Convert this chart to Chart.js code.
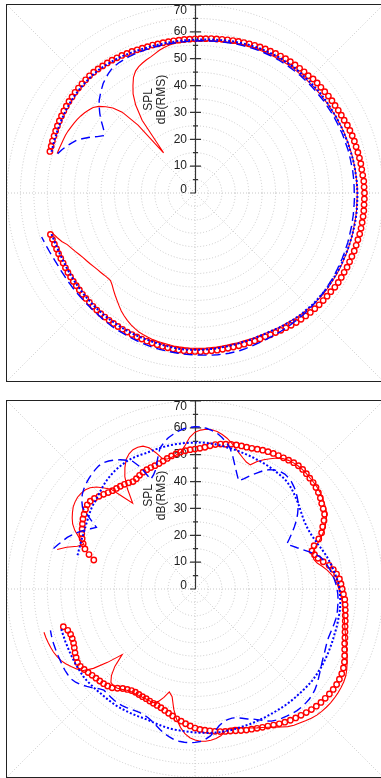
<!DOCTYPE html>
<html>
<head>
<meta charset="utf-8">
<script src="https://cdn.jsdelivr.net/npm/chart.js@4.4.1/dist/chart.umd.min.js"></script>
<style>
  html, body { margin: 0; padding: 0; background: #fff; overflow: hidden; width: 381px; height: 778px; }
  .frame { position: absolute; left: 6px; width: 376px; height: 376px; border: 1px solid #222; }
  #top { top: 4px; }
  #bottom { top: 400px; }
  canvas { display: block; }
</style>
</head>
<body>
<div class="frame" id="top"><canvas id="topChart" width="376" height="376"></canvas></div>
<div class="frame" id="bottom"><canvas id="bottomChart" width="376" height="376"></canvas></div>
<script>
// angle of each sample in degrees, 0 = right, counter-clockwise positive, 2 degree steps
// samples run clockwise from 164 down to -164; the rest of the circle is empty
const ANGLES = Array.from({ length: 180 }, (_, k) => 164 - 2 * k)

const TICK_VALUES = [0, 10, 20, 30, 40, 50, 60, 70]
const TICK_LABELS = ['0', '10', '20', '30', '40', '50', '60', '70']
const MINOR_TICKS = [5, 15, 25, 35, 45, 55, 65]
const RAY_ANGLES = [0, 45, 90, 135, 180, 225, 270, 315]

// upper plot, dB
const topRings = [
  56.2, 56.3, 56.5, 56.6, 56.8, 57.0, 57.2, 57.4, 57.6, 57.8,
  58.0, 58.1, 58.3, 58.4, 58.5, 58.6, 58.7, 58.7, 58.6, 58.5,
  58.4, 58.3, 58.1, 58.0, 57.8, 57.7, 57.5, 57.4, 57.3, 57.3,
  57.2, 57.2, 57.2, 57.2, 57.2, 57.3, 57.3, 57.4, 57.5, 57.6,
  57.8, 57.9, 58.1, 58.3, 58.5, 58.7, 58.9, 59.1, 59.3, 59.5,
  59.7, 59.8, 60.0, 60.1, 60.3, 60.4, 60.5, 60.6, 60.7, 60.7,
  61.1, 61.2, 61.2, 61.3, 61.4, 61.5, 61.5, 61.6, 61.7, 61.8,
  62.1, 62.2, 62.3, 62.4, 62.4, 62.5, 62.6, 62.7, 62.7, 62.8,
  63.0, 63.0, 63.1, 63.1, 63.1, 63.2, 63.2, 63.2, 63.2, 63.2,
  63.1, 63.1, 63.1, 63.0, 63.0, 63.0, 62.9, 62.9, 62.9, 62.8,
  62.5, 62.4, 62.3, 62.2, 62.0, 61.8, 61.6, 61.4, 61.2, 60.9,
  60.5, 60.3, 60.0, 59.8, 59.6, 59.5, 59.4, 59.3, 59.2, 59.2,
  59.1, 59.1, 59.1, 59.1, 59.1, 59.1, 59.1, 59.0, 59.0, 58.9,
  58.8, 58.7, 58.5, 58.4, 58.2, 58.1, 58.0, 57.9, 57.8, 57.7,
  57.6, 57.5, 57.4, 57.3, 57.2, 57.1, 57.0, 56.9, 56.8, 56.6,
  56.5, 56.4, 56.2, 56.1, 56.0, 55.9, 55.8, 55.7, 55.6, 55.6,
  55.6, 55.6, 55.7, 55.8, 56.0
]
const topSolid = [
  53.4, 53.2, 53.0, 52.9, 52.8, 52.6, 52.3, 52.0, 51.7, 51.3,
  50.8, 50.2, 49.5, 48.2, 46.2, 44.0, 40.5, 33.0, 19.0, 33.5,
  39.5, 43.5, 46.2, 48.8, 50.5, 51.5, 52.2, 52.8, 53.3, 54.0,
  54.8, 55.4, 55.9, 56.2, 56.4, 56.5, 56.6, 56.6, 56.7, 56.8,
  57.0, 57.1, 57.3, 57.4, 57.6, 57.8, 58.0, 58.1, 58.3, 58.4,
  58.5, 58.6, 58.7, 58.8, 58.9, 59.0, 59.0, 59.1, 59.1, 59.2,
  59.2, 59.3, 59.3, 59.4, 59.4, 59.5, 59.5, 59.6, 59.7, 59.7,
  59.8, 59.9, 59.9, 60.0, 60.0, 60.1, 60.2, 60.2, 60.3, 60.3,
  60.3, 60.4, 60.4, 60.4, 60.4, 60.5, 60.5, 60.5, 60.5, 60.6,
  60.6, 60.6, 60.7, 60.7, 60.7, 60.8, 60.8, 60.8, 60.8, 60.8,
  60.8, 60.8, 60.7, 60.6, 60.5, 60.3, 60.1, 59.9, 59.7, 59.4,
  59.2, 59.0, 58.8, 58.6, 58.4, 58.3, 58.2, 58.1, 58.0, 58.0,
  57.9, 57.9, 57.9, 57.9, 57.9, 57.9, 57.9, 57.8, 57.8, 57.7,
  57.6, 57.5, 57.3, 57.1, 57.0, 56.8, 56.5, 56.2, 55.8, 55.2,
  54.5, 53.7, 52.8, 51.8, 50.6, 49.4, 48.3, 47.2, 46.1, 45.3,
  45.4, 45.6, 45.9, 46.2, 46.6, 47.1, 47.6, 48.1, 48.8, 49.6,
  50.4, 51.3, 52.8, 53.9, 55.0
]
const topDashed = [
  53.2, 52.1, 50.9, 49.6, 48.3, 46.3, 44.2, 42.0, 40.3, 40.8,
  42.5, 44.5, 46.3, 48.0, 49.6, 50.8, 52.0, 53.2, 54.1, 54.9,
  55.6, 56.0, 56.2, 56.3, 56.4, 56.4, 56.4, 56.4, 56.4, 56.4,
  56.4, 56.4, 56.4, 56.4, 56.4, 56.5, 56.5, 56.6, 56.7, 56.8,
  56.9, 57.0, 57.1, 57.3, 57.4, 57.6, 57.7, 57.8, 58.0, 58.1,
  58.2, 58.3, 58.4, 58.5, 58.5, 58.6, 58.6, 58.7, 58.7, 58.7,
  58.8, 58.8, 58.8, 58.8, 58.9, 58.9, 58.9, 59.0, 59.0, 59.0,
  59.0, 59.1, 59.1, 59.1, 59.2, 59.2, 59.2, 59.2, 59.3, 59.3,
  59.3, 59.3, 59.3, 59.4, 59.4, 59.4, 59.5, 59.5, 59.6, 59.6,
  59.7, 59.8, 59.8, 59.9, 60.0, 60.0, 60.1, 60.2, 60.3, 60.3,
  60.4, 60.5, 60.5, 60.6, 60.6, 60.6, 60.6, 60.6, 60.6, 60.6,
  60.6, 60.6, 60.6, 60.6, 60.6, 60.6, 60.7, 60.8, 60.9, 61.0,
  61.0, 61.0, 60.9, 60.8, 60.7, 60.5, 60.4, 60.3, 60.2, 60.1,
  60.0, 59.9, 59.8, 59.7, 59.6, 59.5, 59.4, 59.2, 59.1, 58.9,
  58.8, 58.7, 58.6, 58.5, 58.3, 58.2, 58.0, 57.9, 57.8, 57.7,
  57.6, 57.6, 57.6, 57.6, 57.6, 57.6, 57.6, 57.7, 57.7, 57.9,
  58.1, 58.4, 58.7, 59.0, 59.4
]
const topDotted = [
  55.6, 55.7, 55.9, 56.0, 56.2, 56.4, 56.6, 56.8, 57.0, 57.2,
  57.4, 57.5, 57.7, 57.8, 57.9, 58.0, 58.1, 58.2, 58.2, 58.1,
  58.0, 57.9, 57.8, 57.7, 57.5, 57.4, 57.2, 57.1, 57.0, 57.0,
  56.9, 56.9, 56.9, 56.9, 56.9, 57.0, 57.0, 57.1, 57.2, 57.3,
  57.5, 57.6, 57.8, 58.0, 58.2, 58.3, 58.5, 58.7, 58.8, 59.0,
  59.1, 59.2, 59.3, 59.4, 59.4, 59.5, 59.5, 59.5, 59.5, 59.5,
  59.5, 59.5, 59.6, 59.6, 59.6, 59.6, 59.6, 59.6, 59.7, 59.7,
  59.8, 59.8, 59.8, 59.9, 59.9, 60.0, 60.1, 60.2, 60.2, 60.3,
  60.4, 60.4, 60.5, 60.5, 60.5, 60.6, 60.6, 60.6, 60.6, 60.6,
  60.6, 60.6, 60.6, 60.6, 60.6, 60.6, 60.6, 60.6, 60.6, 60.6,
  60.6, 60.5, 60.4, 60.4, 60.3, 60.1, 60.0, 59.9, 59.7, 59.5,
  59.3, 59.1, 58.8, 58.6, 58.5, 58.4, 58.4, 58.4, 58.3, 58.3,
  58.3, 58.3, 58.3, 58.4, 58.4, 58.4, 58.4, 58.4, 58.4, 58.4,
  58.3, 58.2, 58.0, 57.9, 57.7, 57.6, 57.5, 57.5, 57.4, 57.3,
  57.2, 57.1, 57.0, 56.9, 56.8, 56.7, 56.6, 56.5, 56.4, 56.2,
  56.1, 56.0, 55.8, 55.7, 55.6, 55.5, 55.4, 55.3, 55.2, 55.2,
  55.2, 55.2, 55.3, 55.4, 55.6
]

// lower plot, dB
const bottomRings = [
  39.2, 41.5, 43.6, 44.9, 46.0, 46.9, 47.6, 48.4, 49.2, 49.8,
  50.4, 50.9, 50.9, 50.4, 49.7, 49.0, 48.3, 47.8, 47.5, 47.3,
  47.0, 46.6, 46.2, 46.5, 47.1, 47.6, 47.9, 48.1, 48.3, 48.6,
  49.1, 49.7, 50.3, 50.8, 51.3, 51.6, 51.9, 52.1, 52.4, 52.9,
  53.6, 54.3, 54.8, 55.1, 55.5, 55.8, 56.0, 56.2, 56.5, 57.0,
  57.5, 57.9, 58.3, 58.6, 58.9, 59.3, 59.7, 59.9, 59.9, 59.7,
  59.4, 59.2, 58.8, 58.3, 57.7, 56.9, 56.3, 55.7, 54.4, 52.9,
  51.6, 49.7, 47.2, 45.8, 46.3, 47.2, 48.8, 50.7, 52.0, 53.0,
  53.9, 54.4, 54.8, 55.3, 55.9, 56.2, 56.5, 56.8, 57.2, 57.6,
  58.1, 58.7, 59.3, 60.1, 61.0, 61.9, 62.6, 63.1, 63.4, 63.6,
  63.6, 63.5, 63.3, 63.1, 62.8, 62.4, 61.9, 61.4, 60.9, 60.4,
  59.8, 59.2, 58.5, 57.8, 57.3, 56.8, 56.3, 55.9, 55.4, 54.9,
  54.5, 54.2, 53.9, 53.5, 53.1, 52.7, 52.3, 51.8, 51.0, 50.3,
  49.5, 48.8, 48.0, 47.3, 46.6, 46.0, 45.6, 45.3, 45.0, 44.7,
  44.6, 44.5, 44.4, 44.6, 45.1, 45.8, 46.9, 48.0, 48.6, 49.0,
  49.3, 49.6, 50.0, 50.5, 51.0, 51.5, 51.6, 51.1, 50.6, 50.0,
  49.5, 49.3, 49.3, 49.8, 51.0
]
const bottomSolid = [
  53.4, 50.3, 46.6, 44.6, 47.3, 49.8, 51.6, 52.8, 53.8, 54.7,
  55.2, 55.5, 55.4, 55.1, 54.3, 52.8, 50.6, 48.5, 43.5, 39.5,
  45.0, 49.3, 52.2, 54.6, 56.0, 56.8, 56.9, 56.6, 55.3, 52.8,
  50.0, 49.5, 49.8, 50.4, 51.2, 53.5, 56.5, 58.4, 59.2, 59.6,
  59.6, 59.2, 58.4, 57.4, 56.1, 54.6, 53.2, 52.0, 51.0, 50.6,
  52.8, 54.5, 56.0, 57.5, 58.6, 59.2, 59.6, 59.8, 59.8, 59.7,
  59.5, 59.4, 59.2, 58.9, 58.5, 57.9, 57.3, 56.6, 55.4, 54.0,
  52.4, 50.5, 48.2, 46.5, 45.6, 45.6, 46.5, 48.2, 49.8, 51.1,
  52.2, 53.0, 53.6, 54.2, 54.8, 55.3, 55.8, 56.3, 56.9, 57.5,
  58.2, 59.0, 59.9, 60.9, 62.0, 63.0, 64.0, 64.8, 65.3, 65.6,
  65.8, 65.9, 65.9, 65.8, 65.6, 65.3, 64.7, 64.0, 63.3, 62.7,
  61.8, 60.6, 59.4, 58.3, 57.4, 56.6, 55.8, 55.0, 54.2, 53.6,
  53.6, 54.2, 55.5, 56.2, 56.6, 56.8, 56.7, 56.2, 55.4, 54.0,
  51.8, 49.0, 45.5, 41.0, 39.5, 42.0, 44.0, 45.0, 45.0, 44.8,
  44.8, 44.9, 44.9, 45.0, 45.5, 46.2, 46.9, 47.2, 46.8, 44.8,
  41.5, 36.5, 42.5, 48.0, 51.8, 53.2, 54.4, 55.6, 56.6, 57.2,
  57.7, 58.0, 58.2, 58.4, 58.5
]
const bottomDashed = [
  54.8, 53.6, 52.4, 51.3, 49.8, 48.3, 46.7, 44.9, 43.3, 47.5,
  51.8, 53.5, 54.8, 55.7, 56.4, 57.0, 57.5, 57.9, 58.2, 58.1,
  57.5, 56.6, 55.6, 54.3, 52.9, 49.5, 44.0, 45.2, 47.0, 50.5,
  54.0, 55.8, 57.2, 58.2, 59.1, 59.8, 60.2, 60.4, 60.4, 60.0,
  59.4, 58.6, 57.4, 55.9, 54.0, 51.2, 48.2, 45.6, 43.4, 45.0,
  47.0, 48.9, 50.9, 52.4, 53.4, 54.0, 54.3, 54.1, 53.7, 53.0,
  52.2, 51.2, 50.1, 48.7, 47.2, 45.5, 43.6, 41.7, 39.8, 38.0,
  39.5, 41.0, 42.8, 44.8, 46.8, 48.4, 49.3, 50.1, 50.8, 51.5,
  52.0, 52.5, 52.9, 53.2, 53.4, 53.5, 53.6, 53.7, 53.6, 53.4,
  53.2, 53.0, 52.9, 53.0, 53.3, 53.7, 54.1, 54.6, 55.3, 56.0,
  56.8, 57.6, 58.3, 58.8, 59.1, 59.2, 59.2, 59.1, 58.8, 58.4,
  58.0, 57.5, 56.8, 55.6, 54.2, 53.0, 52.2, 51.2, 50.4, 50.0,
  50.1, 50.6, 51.7, 53.4, 55.0, 56.1, 56.8, 57.1, 57.3, 57.2,
  57.0, 56.6, 55.8, 55.0, 53.9, 52.8, 51.8, 51.0, 50.6, 50.4,
  50.5, 50.7, 51.0, 51.2, 51.3, 51.2, 51.0, 50.8, 50.7, 51.6,
  53.0, 54.2, 55.4, 56.4, 57.0, 57.1, 57.1, 57.0, 56.8, 56.7,
  56.6, 56.5, 56.4, 56.2, 56.0
]
const bottomDotted = [
  45.5, 45.6, 45.7, 45.9, 46.1, 46.3, 46.6, 47.0, 47.4, 47.9,
  48.4, 48.9, 49.3, 49.6, 50.1, 50.7, 51.3, 51.9, 52.4, 52.8,
  53.2, 53.5, 53.7, 53.9, 54.0, 54.0, 53.9, 53.8, 53.9, 54.0,
  54.1, 54.2, 54.3, 54.4, 54.4, 54.5, 54.5, 54.5, 54.6, 54.6,
  54.5, 54.4, 54.3, 54.1, 54.0, 53.9, 53.8, 53.7, 53.6, 53.5,
  53.4, 53.4, 53.3, 53.2, 53.1, 53.0, 52.9, 52.7, 52.3, 51.8,
  51.2, 50.6, 50.0, 49.4, 48.8, 48.3, 47.9, 47.7, 47.6, 47.7,
  47.9, 48.3, 48.7, 49.3, 49.9, 50.5, 51.0, 51.5, 52.0, 52.5,
  53.0, 53.5, 53.8, 54.0, 54.2, 54.4, 54.5, 54.5, 54.5, 54.6,
  54.6, 54.6, 54.7, 54.8, 54.9, 55.0, 55.1, 55.2, 55.3, 55.3,
  55.4, 55.4, 55.3, 55.2, 55.1, 55.0, 55.0, 54.9, 54.8, 54.7,
  54.6, 54.5, 54.4, 54.4, 54.3, 54.3, 54.3, 54.2, 54.2, 54.2,
  54.2, 54.1, 54.1, 54.0, 53.9, 53.7, 53.6, 53.4, 53.3, 53.1,
  53.0, 52.9, 52.8, 52.6, 52.4, 52.2, 52.0, 51.8, 51.8, 51.9,
  52.0, 52.1, 52.2, 52.3, 52.4, 52.4, 52.4, 52.4, 52.4, 52.5,
  52.6, 52.7, 52.8, 52.8, 52.7, 52.6, 52.5, 52.4, 52.3, 52.2,
  52.1, 52.1, 52.0, 52.0, 52.0
]

const RED = '#ff0000'
const BLUE = '#0000ff'
const GRID_COLOR = '#c8c8c8'
const AXIS_COLOR = '#333333'
const FONT = '12px "Liberation Sans", Arial, sans-serif'

// rays, radial axis with ticks, tick labels and axis title
const polarAxis = {
  id: 'polarAxis',
  beforeDatasetsDraw(chart) {
    const r = chart.scales.r
    const ctx = chart.ctx
    const area = chart.chartArea
    const xc = r.xCenter
    const yc = r.yCenter
    const half = Math.max(area.width, area.height) / 2 + 2

    ctx.save()
    ctx.strokeStyle = GRID_COLOR
    ctx.lineWidth = 1
    ctx.setLineDash([1, 2])
    RAY_ANGLES.forEach(deg => {
      const a = deg * Math.PI / 180
      const c = Math.cos(a)
      const s = Math.sin(a)
      const len = half / Math.max(Math.abs(c), Math.abs(s))
      ctx.beginPath()
      ctx.moveTo(xc, yc)
      ctx.lineTo(xc + c * len, yc - s * len)
      ctx.stroke()
    })
    ctx.setLineDash([])

    const x = xc + 0.5
    ctx.strokeStyle = AXIS_COLOR
    ctx.lineWidth = 1.2
    ctx.beginPath()
    ctx.moveTo(x, yc)
    ctx.lineTo(x, yc - r.getDistanceFromCenterForValue(r.max))
    TICK_VALUES.forEach(v => {
      const y = yc - r.getDistanceFromCenterForValue(v)
      ctx.moveTo(x - 5.5, y)
      ctx.lineTo(v === 0 ? x : x + 5.5, y)
    })
    MINOR_TICKS.forEach(v => {
      const y = yc - r.getDistanceFromCenterForValue(v)
      ctx.moveTo(x - 2.5, y)
      ctx.lineTo(x + 2.5, y)
    })
    ctx.stroke()

    ctx.fillStyle = '#222'
    ctx.font = FONT
    ctx.textAlign = 'right'
    ctx.textBaseline = 'middle'
    TICK_VALUES.forEach((v, i) => {
      const y = yc - r.getDistanceFromCenterForValue(v) - (v === 0 ? 3 : 0)
      ctx.fillText(TICK_LABELS[i], xc - 8, Math.max(y, 6))
    })

    ctx.translate(xc - 40, yc - 93.5)
    ctx.rotate(-Math.PI / 2)
    ctx.textAlign = 'center'
    ctx.fillText('SPL', 0, -6.3)
    ctx.fillText('dB(RMS)', 0, 6.3)
    ctx.restore()
  }
}

function polarChart(canvasId, dotted, dashed, solid, rings) {
  return new Chart(document.getElementById(canvasId), {
    type: 'radar',
    data: {
      labels: ANGLES,
      datasets: [
        { data: dotted, borderColor: BLUE, borderWidth: 2, borderDash: [2, 2], pointRadius: 0, fill: false },
        { data: dashed, borderColor: BLUE, borderWidth: 1.4, borderDash: [9, 5], pointRadius: 0, fill: false },
        { data: solid, borderColor: RED, borderWidth: 1.1, pointRadius: 0, fill: false },
        {
          data: rings, showLine: false, fill: false,
          pointStyle: 'circle', pointRadius: 2.7, pointBorderWidth: 1.4,
          pointBorderColor: RED, pointBackgroundColor: 'rgba(255,255,255,0)'
        }
      ]
    },
    options: {
      responsive: false,
      animation: false,
      events: [],
      layout: { padding: 0 },
      plugins: { legend: { display: false }, tooltip: { enabled: false } },
      elements: { line: { tension: 0 } },
      scales: {
        r: {
          min: 0,
          max: 70,
          startAngle: 286,
          ticks: { display: false, stepSize: 5 },
          grid: { circular: true, color: GRID_COLOR, lineWidth: 1 },
          border: { dash: [1, 2] },
          angleLines: { display: false },
          pointLabels: { display: false }
        }
      }
    },
    plugins: [polarAxis]
  })
}

polarChart('topChart', topDotted, topDashed, topSolid, topRings)
polarChart('bottomChart', bottomDotted, bottomDashed, bottomSolid, bottomRings)
</script>
</body>
</html>
